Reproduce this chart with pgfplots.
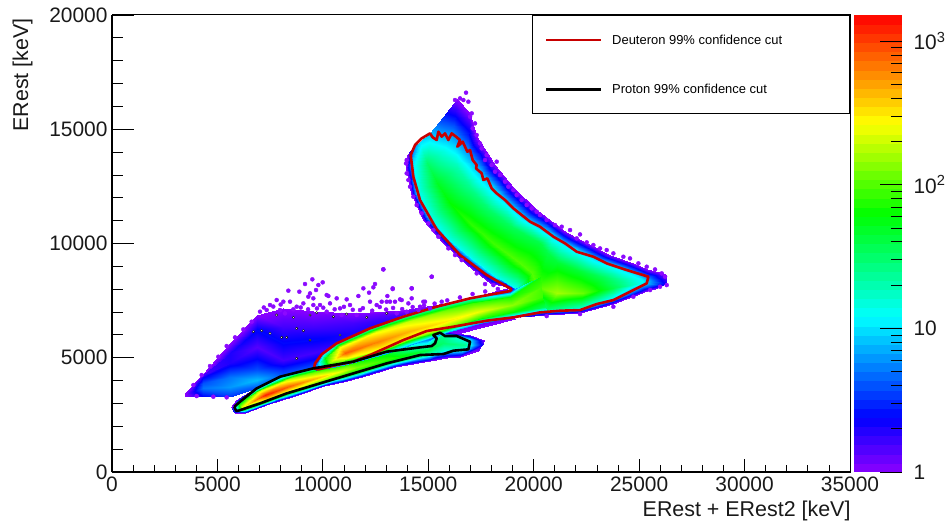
\documentclass[border=0pt]{standalone}
\usepackage{fontspec}
\setmainfont{Liberation Sans}
\usepackage{pgfplots}
\pgfplotsset{compat=1.18}
\definecolor{rpurple}{RGB}{140,10,255}
\definecolor{rred}{RGB}{200,0,0}
\pgfplotsset{
  rootpal/.style={colormap={rootpal}{rgb255(0pt)=(140,0,255) rgb255(38pt)=(0,0,255) rgb255(108pt)=(0,255,255) rgb255(180pt)=(0,255,0) rgb255(243pt)=(255,255,0) rgb255(318pt)=(255,0,0)}, colormap name=rootpal},
  common/.style={scale only axis, width=738bp, height=457bp, xmin=0, xmax=35000, ymin=0, ymax=20000,
    scaled ticks=false, tick align=inside,
    /pgf/number format/1000 sep={}, /pgf/number format/assume math mode=true,
    tick label style={font=\fontsize{21}{24}\selectfont, text=black!90}},
  band/.style={surf, shader=interp, forget plot, mesh/cols=#1, point meta=explicit},
}
\begin{document}
\begin{tikzpicture}
\useasboundingbox (-112bp,-52bp) rectangle (840bp,472bp);
\begin{axis}[common, rootpal,
  point meta min=0, point meta max=3.181,
  ytick=\empty,
  xtick={0,5000,10000,15000,20000,25000,30000,35000}, minor x tick num=4,
  xtick pos=bottom,
  major tick length=13bp, minor tick length=6.5bp,
  tick style={black, line width=0.8bp},
  axis line style={line width=1bp},
  xticklabel style={yshift=-1bp},
  colorbar sampled,
  colorbar style={samples=51, at={(1.0054,1)}, anchor=north west, width=48bp, height=457bp,
    scale only axis,
    ytick={0,1,2,3}, yticklabels={1,10,10\textsuperscript{2},10\textsuperscript{3}},
    minor ytick={0.301,0.477,0.602,0.699,0.778,0.845,0.903,0.954,1.301,1.477,1.602,1.699,1.778,1.845,1.903,1.954,2.301,2.477,2.602,2.699,2.778,2.845,2.903,2.954},
    tick align=inside, ytick pos=right, yticklabel pos=right,
    major tick length=22bp, minor tick length=11bp,
    tick style={black, line width=0.8bp},
    axis line style={draw=none},
    /pgf/number format/assume math mode=true,
    yticklabel style={font=\fontsize{21}{24}\selectfont, text=black!90, xshift=8bp}},
  legend style={at={(0.9995,0.9995)}, anchor=north east, draw=black, line width=1bp, fill=white,
    font=\fontsize{13}{15}\selectfont, inner xsep=12bp, inner ysep=17bp, row sep=34.5bp},
  legend cell align=left,
  legend image code/.code={\draw[#1, line width=2.6bp] (0bp,0bp) -- (55bp,0bp); \path[draw=none] (0bp,0bp) -- (64bp,0bp);},
]
% background scatter region
\addplot[band=6] table[meta=m] {
x y m
3462 3324 0
3447 3368 0
3447 3397 0
3462 3426 0
3478 3456 0
3494 3485 0
4332 3339 .4
4332 3660 .7
4332 3879 .6
4332 4098 .4
4332 4243 .2
4332 4287 0
5597 3295 .5
5597 3733 .8
5597 4170 .7
5597 4754 .3
5597 5192 .3
5597 5630 0
6862 3660 .6
6862 4025 .9
6862 4462 .6
6862 5484 .15
6862 6213 .4
6862 6870 0
8126 4243 .6
8126 4462 .5
8126 4900 .2
8126 5630 .4
8126 6359 .2
8126 7160 0
9549 4608 .6
9549 4900 .4
9549 5192 .2
9549 5775 .4
9549 6359 .2
9549 7050 0
11447 4900 .6
11447 5338 .4
11447 5775 .3
11447 6140 .3
11447 6505 .2
11447 6950 0
13818 5673 0
13818 5994 .2
13818 6359 .3
13818 6651 .3
13818 6870 .2
13818 7089 0
16348 6038 0
16348 6505 .3
16348 6797 .3
16348 7089 .3
16348 7307 .2
16348 7497 0
19114 6680 0
18877 6870 .3
18877 7234 .3
18719 7599 .3
18719 7891 .2
18719 8037 0
};
% holes in the scatter
\addplot[only marks, forget plot, mark=*, mark size=1.2bp, mark options={draw=none, fill=white}] table {
8759 6286
8285 5892
8047 5892
7099 6184
10814 5994
8759 4973
9391 5775
7494 6067
9075 6184
6703 6140
7810 6870
8601 6767
9391 6870
9707 6972
10498 6797
11130 6913
12079 6767
13028 6943
};
% speckles
\addplot[only marks, forget plot, color=rpurple, mark=*, mark size=2bp, mark options={solid, draw=none, fill=rpurple}] table {
8364 7935
9502 8431
9154 8227
9992 8299
9786 8183
9676 7964
9391 7818
8885 7891
9312 7672
9549 7599
10182 7745
10261 7701
10656 7599
11130 7555
11684 7701
11921 8037
12474 8227
12395 8081
12190 7847
13312 8037
14213 8037
12869 8868
15162 8548
13059 7701
13660 7555
13186 7453
12790 7453
12237 7453
14845 7453
14609 7234
15636 7453
14213 7599
11763 7088
11288 7307
10814 7161
10340 7380
9865 7307
9549 7307
9075 7380
8759 7234
8443 7453
8126 7453
7810 7526
7494 7307
7336 7088
8205 6943
7968 7088
10182 7016
10893 6870
11605 6870
12553 7307
13502 6943
13976 7016
14529 7088
15083 7161
16790 16600
16901 16206
17059 15695
17217 15257
17454 14382
17770 13871
18245 13580
18165 13142
18640 12704
19193 12120
19667 11683
20300 11245
21327 10734
22197 10399
22513 10049
23462 9713
24252 9421
25359 8984
26229 8546
26308 8181
13976 13652
14055 12777
14450 11683
15241 10589
16268 9494
17691 8225
15162 8546
14213 8035
12869 8867
13312 8006
13027 7452
13422 7452
13739 7525
14055 7379
14766 7452
3858 3806
4253 4243
4648 4637
5043 5046
5439 5513
5834 5892
6229 6242
6624 6578
7020 7016
4016 3324
4806 3295
5439 3266
7200 7200
7650 7240
8000 7330
8600 7120
8950 7200
9300 7120
9720 7160
10020 7190
10560 7120
11000 7230
11420 7100
11900 7170
12340 7060
12700 7220
13000 7110
13330 7180
13760 7130
14260 7220
14800 7290
15300 7370
15900 7510
16500 7640
17100 7790
17700 7900
18300 8010
16980 15549
17106 15038
17296 14747
17533 14163
17691 13652
18007 13434
18403 12996
18798 12485
19035 12339
19430 11902
19905 11537
20142 11391
20616 11026
21011 10807
21723 10589
22039 10224
22829 9932
23146 9786
23778 9567
24568 9348
24964 9130
25754 8867
26070 8692
13944 13506
13976 13069
14134 12485
14292 12048
14687 11318
15003 10880
15478 10297
15952 9786
16584 9275
17296 8692
18086 8181
16268 16279
16505 16352
16663 16279
23778 7233
24727 7670
25517 7962
25991 8108
22197 6912
20616 6824
};
% proton band
\addplot[band=5] table[meta=m] {
x y m
5628 2857 0
5676 2755 .3
5723 2682 .4
5787 2624 .3
5834 2566 0
5881 3149 0
5992 3003 1.6
6150 2857 2.4
6261 2712 1.6
6308 2595 0
6862 3733 .3
6972 3558 2.3
7257 3368 3.1
7415 3149 2.3
7462 2974 0
8126 4244 .5
8253 4025 2.3
8443 3762 2.9
8601 3529 2.2
8680 3324 0
9549 4579 1.0
9707 4419 2.0
9866 4170 2.6
9992 3937 1.9
10055 3762 0
10498 4754 1.0
10609 4579 1.9
10735 4389 2.4
10846 4170 1.8
10941 3952 0
11447 4900 1.0
11526 4754 1.9
11684 4579 2.1
11763 4389 1.7
11842 4170 0
13028 5338 1.0
13107 5192 1.7
13265 4973 1.9
13344 4827 1.6
13423 4579 0
14925 5994 .2
14956 5702 1.0
15004 5338 1.6
15051 5119 1.3
15083 4856 0
15636 6184 0
15636 5994 1.4
15715 5629 1.5
15794 5338 1.2
15873 4973 0
16980 5994 0
16901 5805 1.1
16743 5557 1.4
16664 5338 1.1
16506 5017 0
17644 5775 0
17581 5659 .2
17533 5557 .3
17454 5454 .2
17375 5309 0
};
% deuteron crescent
\addplot[band=6] table[meta=m] {
x y m
14007 13871 0
14292 14236 .7
14608 14455 1.0
15083 14820 .9
15715 15549 .5
16379 16308 0
13944 13288 0
14213 13434 1.0
14924 13507 1.5
15715 14090 1.15
16189 14966 .7
16948 15768 0
14165 12193 0
14482 12266 1.1
15399 12631 1.7
16347 13361 1.3
16901 13871 .85
17296 14674 0
14766 11026 0
15083 11172 1.15
16031 11756 1.8
16980 12485 1.4
17612 12996 .9
18165 13434 0
15715 10005 0
15952 10224 1.15
16980 10880 1.9
17770 11537 1.5
18482 12048 .95
19035 12485 0
16822 9057 0
17059 9348 1.15
18086 10005 1.95
18956 10734 1.55
19509 11172 .95
20142 11464 0
17928 8254 0
18244 8546 1.15
19351 9130 2.0
20300 10005 1.6
20932 10370 .95
21407 10589 0
18909 8035 0
19114 8035 1.1
19905 8692 2.0
20695 9567 1.6
21407 10005 1.0
21960 10297 0
19351 6766 0
19430 7014 1.4
20142 8108 2.0
21090 9202 1.65
22039 9713 1.0
22513 10005 0
20616 6868 0
20616 7116 1.5
21090 7816 2.2
22039 8838 1.65
22988 9275 1.0
23620 9494 0
22197 6941 0
22197 7204 1.3
22355 7816 2.05
23304 8546 1.55
24094 8911 1.0
24727 9159 0
23778 7350 0
23699 7598 1.1
23778 8035 1.6
24252 8400 1.35
24885 8619 1.0
25359 8867 0
25359 7933 0
25201 8108 .7
25122 8254 1.1
25201 8400 1.05
25438 8546 .7
26150 8721 0
25754 7992 0
25960 8079 .2
26118 8181 .35
26229 8283 .35
26308 8400 .2
26308 8619 0
};
% deuteron lower band
\addplot[band=5] table[meta=m] {
x y m
9581 4608 .5
9581 4579 .5
9613 4535 .5
9644 4491 .5
9676 4448 .5
9945 5148 .8
10103 4973 1.8
10340 4827 2.2
10498 4681 1.8
10577 4579 .8
10656 5702 1.0
10814 5484 2.4
11051 5192 2.9
11209 4973 2.4
11367 4754 1
12237 6359 1
12395 6067 2.4
12553 5702 2.8
12790 5367 2.4
12948 5163 .8
13818 6870 1
13944 6578 2.3
14134 6184 2.65
14292 5892 2.3
14419 5659 .8
15399 7307 1
15525 6986 2.1
15715 6578 2.5
15873 6286 2.1
15952 6111 .8
16980 7672 1
17107 7380 1.95
17296 6986 2.4
17454 6724 1.9
17533 6505 .7
18877 7935 .5
18877 7643 1.85
18956 7307 2.15
19035 7015 1.8
19114 6767 .6
20300 8548 1.85
20332 8110 1.98
20380 7672 1.95
20537 7234 1.55
20616 6870 0
};
% cuts
\addplot[rred, line width=2.6bp, line join=round] table {
18956 7992
17770 8619
16505 9494
15399 10618
14608 11902
14292 12923
14166 13871
14371 14309
14687 14601
15083 14820
15209 14645
15399 14528
15478 14893
15636 14674
15794 14820
15952 14528
16110 14820
16316 14674
16505 14528
16379 14236
16632 14455
16853 14017
16980 14090
17106 13652
17296 13434
17264 13288
17533 13069
17612 12777
17802 12850
18007 12412
18245 12193
18640 11902
19035 11537
19430 11245
19826 10953
20300 10734
20932 10297
21486 10005
22039 9640
22829 9421
23462 9130
24410 8838
25438 8546
25359 8254
24885 8035
23778 7525
22988 7350
22197 7087
21248 7058
20300 6985
19035 6768
17771 6622
16190 6359
14925 6169
13818 5775
12237 5119
11447 4827
10656 4681
9786 4491
9581 4535
9628 4754
9945 5148
10656 5629
12237 6286
13818 6797
15399 7234
16980 7599
18877 7920
18956 7992
};
\addlegendentry{Deuteron 99\% confidence cut\rule{53bp}{0pt}}
\addplot[black, line width=2.6bp, line join=round] table {
5802 2857
6071 3076
6862 3660
7968 4170
9549 4535
11447 4827
13028 5265
14609 5454
15162 5513
15320 5629
15399 5848
15241 5994
15557 6096
15794 5950
16348 5950
16980 5702
16901 5367
16190 5309
15715 5163
14609 5119
13028 4754
11447 4316
9866 3879
8285 3441
7020 3003
5992 2682
5881 2682
5802 2857
};
\addlegendentry{Proton 99\% confidence cut}
\end{axis}
% axis lines and y ticks
\begin{axis}[common,
  axis x line*=bottom, axis y line*=left,
  axis line style={-, line width=1.8bp},
  xtick=\empty,
  ytick={0,5000,10000,15000,20000}, minor y tick num=4,
  major tick length=22bp, minor tick length=11bp,
  tick style={black, line width=0.8bp},
  yticklabel style={xshift=-1bp},
  xlabel={ERest + ERest2 [keV]},
  ylabel={ERest [keV]},
  label style={font=\fontsize{21.5}{24}\selectfont, text=black!90},
  xlabel style={at={(axis description cs:1,0)}, anchor=north east, yshift=-25bp, xshift=4bp},
  ylabel style={at={(axis description cs:0,1)}, anchor=south east, rotate=0, yshift=76bp},
]
\addplot[draw=none, forget plot] coordinates {(0,0)};
\end{axis}
\end{tikzpicture}
\end{document}
